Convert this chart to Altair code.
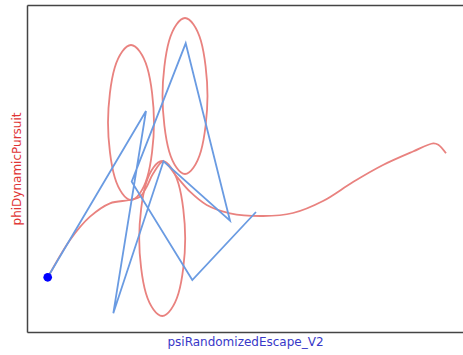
import altair as alt
import pandas as pd

# ---- data (chart units) ----
# red trajectory (phiDynamicPursuit), main smooth part
red_x = [20.7, 23, 43, 63, 83, 103, 113, 119.7, 126.3, 136.3, 149.7, 163, 179.7,
         203, 236, 266, 296, 326, 356, 386, 406.3, 411.3, 419]
red_y = [54.7, 58.7, 92, 115.3, 128.7, 132, 135.3, 145.3, 158.7, 170.3, 155.3, 140.3, 127,
         118.7, 116, 119, 131, 150, 167, 180.5, 188.7, 187.3, 178.7]

# red loops (three closed orbits)
loop_id = ["a"] * 8 + ["b"] * 8 + ["c"] * 8
loop_x = [127, 120.3, 104, 87.7, 81, 87.7, 104, 120.3,
          180.5, 173.9, 158, 142.1, 135.5, 142.1, 158, 173.9,
          158.2, 151.5, 135.2, 118.9, 112.2, 118.9, 135.2, 151.5]
loop_y = [209.5, 264.3, 287, 264.3, 209.5, 154.7, 132, 154.7,
          236, 291.2, 314, 291.2, 236, 180.8, 158, 180.8,
          93.5, 148.3, 171, 148.3, 93.5, 38.7, 16, 38.7]

# blue path (psiRandomizedEscape_V2)
blue_x = [20.7, 119, 86.3, 136.5, 203, 158.7, 104.7, 165.3, 229]
blue_y = [54.7, 221, 18.7, 170.7, 111.3, 288.7, 150.3, 52, 120]

start_x = [20.7]
start_y = [54.7]

X_DOMAIN = [0, 436]
Y_DOMAIN = [0, 327]

red_df = pd.DataFrame({"x": red_x, "y": red_y, "i": range(len(red_x))})
loop_df = pd.DataFrame({"id": loop_id, "x": loop_x, "y": loop_y, "i": range(len(loop_x))})
blue_df = pd.DataFrame({"x": blue_x, "y": blue_y, "i": range(len(blue_x))})
start_df = pd.DataFrame({"x": start_x, "y": start_y})

FONT = "DejaVu Sans"
FRAME = "#444444"

xscale = alt.Scale(domain=X_DOMAIN, nice=False, zero=False)
yscale = alt.Scale(domain=Y_DOMAIN, nice=False, zero=False)

x_axis = alt.Axis(orient="bottom", labels=False, ticks=False, grid=False,
                  domainColor=FRAME, domainWidth=1.5,
                  title="psiRandomizedEscape_V2", titleColor="#3838c8",
                  titleFont=FONT, titleFontSize=12, titleFontWeight="normal",
                  titlePadding=4)
y_axis = alt.Axis(orient="left", labels=False, ticks=False, grid=False,
                  domainColor=FRAME, domainWidth=1.5,
                  title="phiDynamicPursuit", titleColor="#e03535",
                  titleFont=FONT, titleFontSize=12, titleFontWeight="normal",
                  titlePadding=4)
top_axis = alt.Axis(orient="top", labels=False, ticks=False, grid=False,
                    domainColor=FRAME, domainWidth=1.5, title=None)

RED = "#e9827f"
BLUE = "#6a9be2"

red_line = alt.Chart(red_df).mark_line(color=RED, strokeWidth=1.8, interpolate="catmull-rom").encode(
    x=alt.X("x:Q", scale=xscale, axis=x_axis),
    y=alt.Y("y:Q", scale=yscale, axis=y_axis),
    order="i:Q",
)

loops = alt.Chart(loop_df).mark_line(color=RED, strokeWidth=1.8, interpolate="cardinal-closed").encode(
    x=alt.X("x:Q", scale=xscale, axis=top_axis),
    y=alt.Y("y:Q", scale=yscale, axis=y_axis),
    detail="id:N",
    order="i:Q",
)

blue_line = alt.Chart(blue_df).mark_line(color=BLUE, strokeWidth=1.8).encode(
    x=alt.X("x:Q", scale=xscale, axis=None),
    y=alt.Y("y:Q", scale=yscale, axis=y_axis),
    order="i:Q",
)

dot = alt.Chart(start_df).mark_circle(color="#0000ff", size=75, opacity=1).encode(
    x=alt.X("x:Q", scale=xscale, axis=None),
    y=alt.Y("y:Q", scale=yscale, axis=y_axis),
)

chart = alt.layer(red_line, loops, blue_line, dot).resolve_axis(
    x="independent"
).properties(
    width=436, height=327,
    autosize=alt.AutoSizeParams(type="none"),
    padding={"left": 27, "top": 5, "right": 0, "bottom": 23},
).configure_view(stroke=None).configure(background="white")

chart.save("out.html", embed_options={"renderer": "svg", "actions": False})
